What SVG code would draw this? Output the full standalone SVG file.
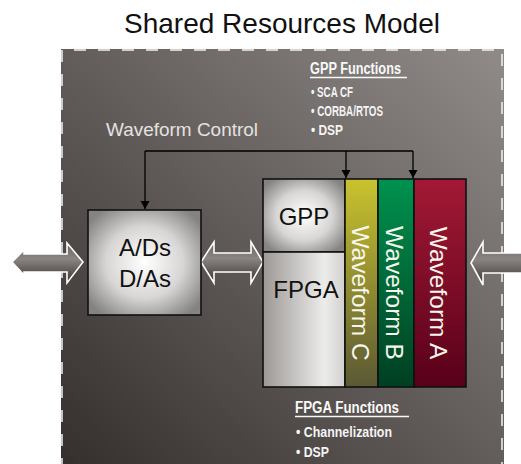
<svg xmlns="http://www.w3.org/2000/svg" width="521" height="464" viewBox="0 0 521 464">
<defs>
<style>
.title{font-family:"Liberation Sans",Arial,sans-serif;font-size:28px;fill:#111}
.lbl{font-family:"Liberation Sans",Arial,sans-serif;font-size:24px;fill:#111;text-anchor:middle}
.wf{font-family:"Liberation Sans",Arial,sans-serif;font-size:24.5px;fill:#f6f6ec;text-anchor:middle}
.ctl{font-family:"Liberation Sans",Arial,sans-serif;font-size:19px;fill:#e4e2e0}
.fh{font-family:"Liberation Sans",Arial,sans-serif;font-weight:bold;font-size:16px;fill:#f8f8f8}
.fi{font-family:"Liberation Sans",Arial,sans-serif;font-weight:bold;font-size:14.5px;fill:#f4f4f4}
.ul{stroke:#f8f8f8;stroke-width:1.5}
.box{stroke:#111;stroke-width:1.6}
.wire{fill:none;stroke:#000;stroke-width:1.3}
.arr{stroke:#fff;stroke-width:1.6;fill:url(#ga)}
</style>
<linearGradient id="gp" x1="0" y1="1" x2="1" y2="0">
<stop offset="0" stop-color="#342e2d"/>
<stop offset="1" stop-color="#908b89"/>
</linearGradient>
<radialGradient id="pil" cx="0.5" cy="0.5" r="0.62">
<stop offset="0" stop-color="#ffffff"/>
<stop offset="0.55" stop-color="#d8d6d4"/>
<stop offset="1" stop-color="#858381"/>
</radialGradient>
<linearGradient id="gf" x1="0" y1="0" x2="1" y2="0">
<stop offset="0" stop-color="#9c9896"/>
<stop offset="0.75" stop-color="#ececea"/>
<stop offset="1" stop-color="#d2d0ce"/>
</linearGradient>
<linearGradient id="gc" x1="0" y1="0" x2="0" y2="1">
<stop offset="0" stop-color="#cac32e"/>
<stop offset="1" stop-color="#5a5834"/>
</linearGradient>
<linearGradient id="gb" x1="0" y1="0" x2="0" y2="1">
<stop offset="0" stop-color="#00924e"/>
<stop offset="1" stop-color="#003f22"/>
</linearGradient>
<linearGradient id="gr" x1="0" y1="0" x2="0" y2="1">
<stop offset="0" stop-color="#a31934"/>
<stop offset="1" stop-color="#58001a"/>
</linearGradient>
<linearGradient id="ga" x1="0" y1="0" x2="0" y2="1">
<stop offset="0" stop-color="#6a6462"/>
<stop offset="0.4" stop-color="#8a8482"/>
<stop offset="1" stop-color="#363030"/>
</linearGradient>
<marker id="ah" viewBox="0 0 8 12" refX="8" refY="6" markerWidth="8" markerHeight="12" markerUnits="userSpaceOnUse" orient="auto">
<path d="M0,1.5 L8,6 L0,10.5 z" fill="#000"/>
</marker>
</defs>
<rect width="521" height="464" fill="#fff"/>
<text class="title" x="282" y="33" text-anchor="middle">Shared Resources Model</text>
<g id="panel">
<rect x="61" y="49" width="443" height="420" fill="url(#gp)"/>
<path d="M62,470 V50 H502 V470" fill="none" stroke="#f4f4f4" stroke-width="1.5" stroke-dasharray="12 12"/>
</g>
<g id="arrows">
<polygon class="arr" points="12,262 24,250 24,254 67,254 67,243 83,262 67,283 67,272 24,272 24,275"/>
<polygon class="arr" points="201,262 214,242 214,253 251,253 251,242 263,262 251,283 251,272 214,272 214,283"/>
<polygon class="arr" points="471,263 483,242 483,253 530,253 530,273 483,273 483,285"/>
</g>
<g id="adc">
<rect class="box" x="88" y="210" width="113" height="105" fill="url(#pil)"/>
<text class="lbl" x="145" y="256">A/Ds</text>
<text class="lbl" x="145" y="287">D/As</text>
</g>
<g id="gpp">
<rect class="box" x="263" y="179" width="82" height="73" fill="url(#pil)"/>
<text class="lbl" x="304" y="225">GPP</text>
</g>
<g id="fpga">
<rect class="box" x="263" y="252" width="82" height="135" fill="url(#gf)"/>
<text class="lbl" x="306" y="298">FPGA</text>
</g>
<g id="wfc">
<rect class="box" x="345" y="179" width="33" height="208" fill="url(#gc)"/>
<text class="wf" transform="translate(352,293) rotate(90)">Waveform C</text>
</g>
<g id="wfb">
<rect class="box" x="378" y="179" width="36" height="208" fill="url(#gb)"/>
<text class="wf" transform="translate(386,293) rotate(90)">Waveform B</text>
</g>
<g id="wfa">
<rect class="box" x="414" y="179" width="52" height="208" fill="url(#gr)"/>
<text class="wf" transform="translate(430,293) rotate(90)">Waveform A</text>
</g>
<g id="gppfn">
<text class="fh" x="310" y="74" textLength="91" lengthAdjust="spacingAndGlyphs">GPP Functions</text>
<line class="ul" x1="310" y1="77.5" x2="407" y2="77.5"/>
<text class="fi" x="311" y="97" textLength="42" lengthAdjust="spacingAndGlyphs">• SCA CF</text>
<text class="fi" x="311" y="116" textLength="72" lengthAdjust="spacingAndGlyphs">• CORBA/RTOS</text>
<text class="fi" x="311" y="135" textLength="32" lengthAdjust="spacingAndGlyphs">• DSP</text>
</g>
<g id="fpgafn">
<text class="fh" x="295" y="413" textLength="104" lengthAdjust="spacingAndGlyphs">FPGA Functions</text>
<line class="ul" x1="295" y1="416.5" x2="409" y2="416.5"/>
<text class="fi" x="296" y="437" textLength="96" lengthAdjust="spacingAndGlyphs">• Channelization</text>
<text class="fi" x="296" y="457" textLength="33" lengthAdjust="spacingAndGlyphs">• DSP</text>
</g>
<g id="control">
<text class="ctl" x="106" y="136" textLength="152" lengthAdjust="spacingAndGlyphs">Waveform Control</text>
</g>
<g id="connectors">
<path class="wire" d="M145,151 H413"/>
<path class="wire" d="M145,151 V209" marker-end="url(#ah)"/>
<path class="wire" d="M346,151 V178" marker-end="url(#ah)"/>
<path class="wire" d="M413,151 V178" marker-end="url(#ah)"/>
</g>
</svg>
